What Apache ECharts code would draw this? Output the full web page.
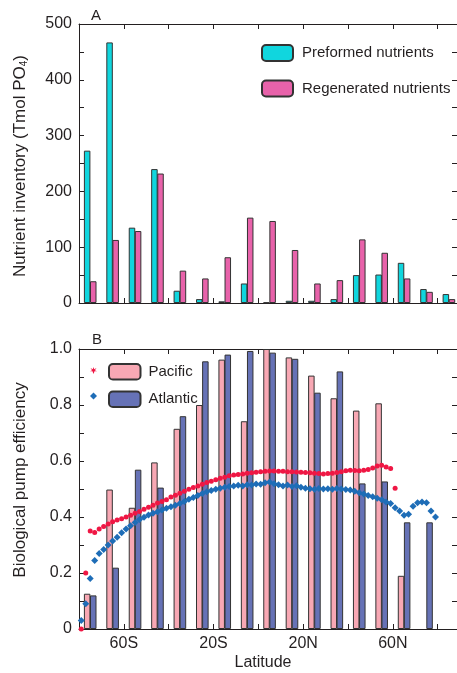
<!DOCTYPE html>
<html>
<head>
<meta charset="utf-8">
<script src="https://cdn.jsdelivr.net/npm/echarts@6/dist/echarts.min.js"></script>
<style>
html, body { margin: 0; padding: 0; background: #fff; }
#chart { width: 457px; height: 673px; }
</style>
</head>
<body>
<div id="chart"></div>
<script>
// 10 degree latitude bins (centres)
const binLat = [-75, -65, -55, -45, -35, -25, -15, -5, 5, 15, 25, 35, 45, 55, 65, 75, 85];
// panel A, Tmol PO4
const preformed = [273, 467, 135, 240, 22, 7, 3, 35, 1, 4, 4, 7, 50, 51, 72, 25, 16];
const regenerated = [39, 113, 129, 232, 58, 44, 82, 153, 147, 95, 35, 41, 114, 90, 44, 20, 7];
// panel B, bars
const pacificBar = [0.126, 0.498, 0.433, 0.595, 0.715, 0.80, 0.962, 0.742, 1.0, 0.97, 0.905, 0.824, 0.78, 0.806, 0.19, null, null];
const atlanticBar = [0.12, 0.219, 0.569, 0.505, 0.76, 0.956, 0.98, 0.993, 0.987, 0.965, 0.844, 0.92, 0.52, 0.527, 0.381, 0.381, null];

// panel B, points every 2 degrees
const pacLat = [-79, -77, -75, -73, -71, -69, -67, -65, -63, -61, -59, -57, -55, -53, -51, -49, -47, -45, -43, -41,
    -39, -37, -35, -33, -31, -29, -27, -25, -23, -21, -19, -17, -15, -13, -11, -9, -7, -5, -3, -1,
    1, 3, 5, 7, 9, 11, 13, 15, 17, 19, 21, 23, 25, 27, 29, 31, 33, 35, 37, 39,
    41, 43, 45, 47, 49, 51, 53, 55, 57, 59, 61];
const pacEff = [0.00, 0.20, 0.35, 0.345, 0.357, 0.366, 0.375, 0.383, 0.389, 0.394, 0.400, 0.406, 0.413, 0.420, 0.428, 0.435, 0.442, 0.450, 0.455, 0.462,
    0.471, 0.478, 0.485, 0.492, 0.499, 0.505, 0.511, 0.517, 0.523, 0.528, 0.533, 0.538, 0.542, 0.547, 0.550, 0.552, 0.554, 0.556, 0.558, 0.560,
    0.562, 0.563, 0.564, 0.564, 0.563, 0.563, 0.562, 0.562, 0.561, 0.560, 0.559, 0.558, 0.556, 0.555, 0.554, 0.555, 0.556, 0.559, 0.562, 0.565,
    0.567, 0.566, 0.565, 0.567, 0.570, 0.575, 0.582, 0.585, 0.579, 0.573, 0.503];
const atlLat = [-79, -77, -75, -73, -71, -69, -67, -65, -63, -61, -59, -57, -55, -53, -51, -49, -47, -45, -43, -41,
    -39, -37, -35, -33, -31, -29, -27, -25, -23, -21, -19, -17, -15, -13, -11, -9, -7, -5, -3, -1,
    1, 3, 5, 7, 9, 11, 13, 15, 17, 19, 21, 23, 25, 27, 29, 31, 33, 35, 37, 39,
    41, 43, 45, 47, 49, 51, 53, 55, 57, 59, 61, 63, 65, 67, 69, 71, 73, 75, 77, 79];
const atlEff = [0.03, 0.09, 0.18, 0.245, 0.27, 0.284, 0.30, 0.314, 0.328, 0.344, 0.357, 0.369, 0.380, 0.391, 0.399, 0.407, 0.413, 0.419, 0.425, 0.431,
    0.437, 0.442, 0.448, 0.455, 0.463, 0.470, 0.477, 0.484, 0.490, 0.495, 0.499, 0.503, 0.506, 0.509, 0.511, 0.513, 0.511, 0.515, 0.514, 0.518,
    0.517, 0.522, 0.525, 0.519, 0.515, 0.511, 0.514, 0.509, 0.512, 0.506, 0.503, 0.501, 0.499, 0.502, 0.500, 0.501, 0.499, 0.502, 0.500, 0.498,
    0.496, 0.492, 0.487, 0.482, 0.477, 0.472, 0.467, 0.462, 0.454, 0.448, 0.433, 0.421, 0.406, 0.410, 0.438, 0.451, 0.454, 0.451, 0.421, 0.400];

const latTicks = { '-60': '60S', '-20': '20S', '20': '20N', '60': '60N' };

const font = 'Liberation Sans, Arial, Helvetica, sans-serif';
const ink = '#231f20';
const edge = '#333333';

function latAxis(grid, pos, withLabels) {
    return {
        type: 'value', gridIndex: grid, position: pos,
        min: -80, max: 88.6, interval: 20,
        axisLine: { show: true, onZero: false, lineStyle: { color: ink, width: 1 } },
        axisTick: { show: true, inside: true, length: 5, lineStyle: { color: ink } },
        axisLabel: {
            show: withLabels, margin: 7, fontSize: 16, fontFamily: font, color: ink,
            showMinLabel: true, showMaxLabel: false,
            formatter: v => latTicks[String(Math.round(v))] || ''
        },
        splitLine: { show: false }
    };
}

function valAxis(grid, pos, max, step, fmt) {
    return {
        type: 'value', gridIndex: grid, position: pos,
        min: 0, max: max, interval: step,
        axisLine: { show: true, onZero: false, lineStyle: { color: ink, width: 1 } },
        axisTick: { show: true, inside: true, length: 5, lineStyle: { color: ink } },
        axisLabel: {
            show: !!fmt, margin: 7, fontSize: 16, fontFamily: font, color: ink,
            formatter: fmt || ''
        },
        splitLine: { show: false }
    };
}

function pairs(xs, ys) {
    return xs.map((x, i) => [x, ys[i]]).filter(d => d[1] !== null);
}

const star = 'path://M5,0 L6,3.3 L9.3,1.5 L7,4.5 L10,6 L6.5,6.2 L5,10 L3.5,6.2 L0,6 L3,4.5 L0.7,1.5 L4,3.3 Z';

const myChart = echarts.init(document.getElementById('chart'), null, { renderer: 'canvas' });

myChart.setOption({
    animation: false,
    backgroundColor: '#ffffff',
    textStyle: { fontFamily: font },
    grid: [
        { left: 79, right: 0, top: 24, height: 279 },
        { left: 79, right: 0, top: 349, height: 280 }
    ],
    xAxis: [
        latAxis(0, 'bottom', false),
        latAxis(0, 'top', false),
        latAxis(1, 'bottom', true),
        latAxis(1, 'top', false)
    ],
    yAxis: [
        valAxis(0, 'left', 500, 50, v => (v % 100 === 0 ? String(v) : '')),
        valAxis(0, 'right', 500, 50, null),
        valAxis(1, 'left', 1, 0.1, v => {
            const k = Math.round(v * 10);
            if (k % 2 !== 0) return '';
            return k === 0 ? '0' : (k / 10).toFixed(1);
        }),
        valAxis(1, 'right', 1, 0.1, null)
    ],
    legend: [
        {
            data: ['Preformed nutrients', 'Regenerated nutrients'],
            orient: 'vertical', left: 261, top: 44, padding: 0,
            itemWidth: 31, itemHeight: 16, itemGap: 17.5,
            textStyle: { fontSize: 15, color: ink, fontFamily: font, padding: [0, 0, 0, 4] }
        },
        {
            data: ['Pacific', 'Atlantic'],
            orient: 'vertical', left: 108, top: 363, padding: 0,
            itemWidth: 31.5, itemHeight: 15.5, itemGap: 10,
            textStyle: { fontSize: 15, color: ink, fontFamily: font, padding: [0, 0, 0, 3] }
        },
        {
            data: [{ name: 'Pacific model', icon: star }, { name: 'Atlantic model', icon: 'diamond' }],
            orient: 'vertical', left: 90, top: 367, padding: 0,
            itemWidth: 7, itemHeight: 7, itemGap: 18.5,
            formatter: () => '',
            textStyle: { fontSize: 1 }
        }
    ],
    graphic: [
        { type: 'text', x: 96, y: 16, style: { text: 'A', font: '15px ' + font, fill: ink, align: 'center', verticalAlign: 'middle' } },
        { type: 'text', x: 97, y: 340, style: { text: 'B', font: '15px ' + font, fill: ink, align: 'center', verticalAlign: 'middle' } },
        { type: 'text', x: 263, y: 663, style: { text: 'Latitude', font: '16px ' + font, fill: ink, align: 'center', verticalAlign: 'middle' } },
        {
            type: 'text', x: 20, y: 166, rotation: Math.PI / 2,
            style: {
                text: 'Nutrient inventory (Tmol PO{sub|4})',
                font: '17px ' + font, fill: ink, align: 'center', verticalAlign: 'middle',
                rich: { sub: { fontSize: 10, fontFamily: font, fill: ink, verticalAlign: 'bottom', padding: [8, 0, 0, 0] } }
            }
        },
        {
            type: 'text', x: 20, y: 480, rotation: Math.PI / 2,
            style: { text: 'Biological pump efficiency', font: '17px ' + font, fill: ink, align: 'center', verticalAlign: 'middle' }
        }
    ],
    series: [
        {
            name: 'Preformed nutrients', type: 'bar', xAxisIndex: 0, yAxisIndex: 0,
            barWidth: 6.5, barGap: '-6%',
            itemStyle: { color: '#10d6de', borderColor: edge, borderWidth: 1 },
            data: pairs(binLat, preformed)
        },
        {
            name: 'Regenerated nutrients', type: 'bar', xAxisIndex: 0, yAxisIndex: 0,
            barWidth: 6.5, barGap: '-6%',
            itemStyle: { color: '#e862aa', borderColor: edge, borderWidth: 1 },
            data: pairs(binLat, regenerated)
        },
        {
            name: 'Pacific', type: 'bar', xAxisIndex: 2, yAxisIndex: 2,
            barWidth: 6.5, barGap: '-6%',
            itemStyle: { color: '#f8a8b4', borderColor: edge, borderWidth: 1 },
            data: pairs(binLat, pacificBar)
        },
        {
            name: 'Atlantic', type: 'bar', xAxisIndex: 2, yAxisIndex: 2,
            barWidth: 6.5, barGap: '-6%',
            itemStyle: { color: '#6672b6', borderColor: edge, borderWidth: 1 },
            data: pairs(binLat, atlanticBar)
        },
        {
            name: 'Pacific model', type: 'scatter', xAxisIndex: 2, yAxisIndex: 2, z: 5,
            symbol: 'circle', symbolSize: 5,
            itemStyle: { color: '#ef1744', opacity: 1 },
            data: pairs(pacLat, pacEff)
        },
        {
            name: 'Atlantic model', type: 'scatter', xAxisIndex: 2, yAxisIndex: 2, z: 5,
            symbol: 'diamond', symbolSize: 7,
            itemStyle: { color: '#1e6db7', opacity: 1 },
            data: pairs(atlLat, atlEff)
        }
    ]
});
</script>
</body>
</html>
